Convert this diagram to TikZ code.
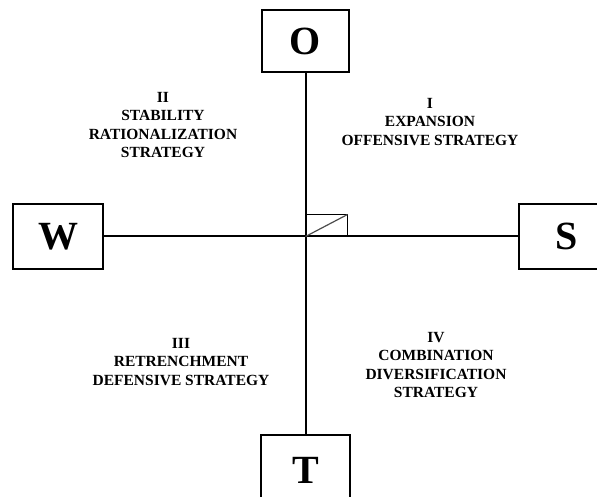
\documentclass[tikz,border=0pt]{standalone}
\usepackage{fontspec}
\setmainfont{Liberation Serif}
\usepackage{tikz}

\begin{document}
\begin{tikzpicture}[x=1pt,y=-1pt]
\tikzstyle{every node}+=[inner sep=0pt]
\tikzstyle{letterbox}=[draw=black, line width=2pt, minimum width=87pt, minimum height=62pt, font=\fontsize{40}{40}\selectfont\bfseries]
\tikzstyle{quadtext}=[align=center, font=\fontsize{15.5}{18.5}\selectfont\bfseries]
\useasboundingbox (0,0) rectangle (597,497);
\clip (0,0) rectangle (597,497);
\node [letterbox] (O) at (305.5,41) {O};
\node [letterbox, minimum width=90pt, minimum height=65pt] (W) at (58,236.5) {W};
\node [letterbox, minimum width=96pt, minimum height=64pt] (S) at (567,236.5) {S};
\node [letterbox, minimum width=89pt, minimum height=70pt] (T) at (305.5,470) {T};
\draw [black, line width=2pt] (O) -- (T);
\draw [black, line width=2pt] (W) -- (S);
\coordinate (ctr) at (305.5,236.5);
\draw [black, line width=1pt] (ctr) rectangle ++(42,-22);
\draw [black!70, line width=1.2pt] (ctr) -- ++(42,-22);
\node [quadtext] (q1) at (430,122) {I\\EXPANSION\\OFFENSIVE STRATEGY};
\node [quadtext] (q2) at (163,125) {II\\STABILITY\\RATIONALIZATION\\STRATEGY};
\node [quadtext] (q3) at (181,362) {III\\RETRENCHMENT\\DEFENSIVE STRATEGY};
\node [quadtext] (q4) at (436,365) {IV\\COMBINATION\\DIVERSIFICATION\\STRATEGY};
\end{tikzpicture}
\end{document}
